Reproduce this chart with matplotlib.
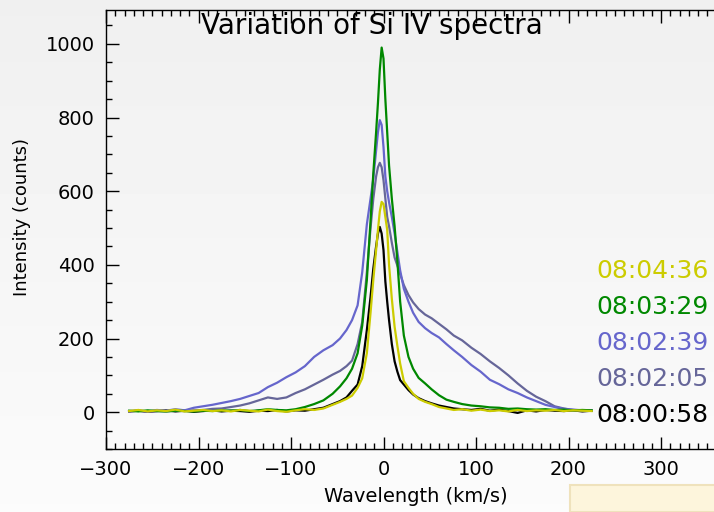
import numpy as np
import matplotlib.pyplot as plt
from matplotlib.patches import Rectangle
from matplotlib.ticker import MultipleLocator

# velocity grid (km/s)
velocity = [-275, -265, -255, -245, -235, -225, -215, -205, -195, -185,
            -175, -165, -155, -145, -135, -125, -115, -105, -95, -85,
            -75, -65, -55, -47, -40, -34, -28, -23, -18, -14,
            -11, -8, -6, -4, -2, 0, 2, 4, 6, 9,
            12, 15, 18, 22, 27, 32, 38, 45, 52, 60,
            68, 76, 85, 95, 105, 115, 125, 135, 145, 155,
            165, 175, 185, 195, 205, 215, 225]

# intensity (counts) for each time
i_080058 = [2, 4, 1, 3, 5, 2, 4, 1, 3, 5,
            2, 4, 3, 1, 4, 3, 6, 2, 5, 4,
            8, 12, 22, 30, 40, 58, 75, 125, 223, 313,
            390, 450, 485, 503, 485, 440, 355, 300, 250, 185,
            138, 110, 87, 75, 60, 48, 38, 30, 24, 18,
            14, 10, 8, 6, 9, 4, 7, 3, -2, 5,
            2, 6, 4, 3, 5, 2, 4]

i_080205 = [2, 4, 1, 3, 2, 4, 3, 5, 6, 9,
            10, 14, 18, 24, 32, 40, 36, 40, 52, 62,
            75, 88, 102, 112, 125, 140, 185, 245, 380, 500,
            580, 640, 665, 677, 665, 630, 580, 530, 505, 460,
            420, 398, 375, 345, 318, 298, 280, 265, 255, 240,
            225, 208, 195, 175, 158, 138, 120, 100, 78, 58,
            42, 30, 16, 10, 6, 4, 4]

i_080239 = [3, 5, 2, 6, 4, 8, 5, 12, 16, 20,
            25, 30, 36, 44, 52, 68, 80, 95, 108, 125,
            150, 168, 182, 200, 223, 250, 290, 380, 510, 580,
            635, 710, 760, 793, 780, 720, 640, 600, 570, 530,
            485, 435, 385, 335, 300, 270, 245, 228, 215, 203,
            185, 168, 150, 128, 110, 88, 76, 62, 52, 40,
            30, 20, 14, 9, 7, 5, 4]

i_080329 = [4, 2, 5, 3, 2, 4, 3, 2, 4, 3,
            5, 4, 6, 3, 5, 8, 6, 5, 8, 14,
            22, 32, 50, 70, 92, 118, 160, 235, 359, 520,
            649, 760, 840, 930, 990, 960, 850, 760, 670, 580,
            505, 410, 300, 208, 150, 118, 93, 78, 62, 46,
            34, 28, 22, 18, 16, 13, 12, 9, 10, 8,
            7, 8, 6, 7, 5, 6, 5]

i_080436 = [3, 6, 2, 5, 3, 7, 2, 4, 6, 3,
            5, 2, 6, 4, 2, 7, 3, 1, 5, 8,
            6, 10, 20, 28, 36, 45, 66, 92, 160, 270,
            360, 440, 495, 545, 571, 565, 530, 495, 400, 308,
            232, 180, 132, 84, 66, 50, 36, 28, 22, 14,
            10, 6, 8, 4, 7, 3, 5, 2, 6, 3,
            5, 4, 6, 3, 5, 4, 3]

times = ["08:00:58", "08:02:05", "08:02:39", "08:03:29", "08:04:36"]
series = [i_080058, i_080205, i_080239, i_080329, i_080436]
colors = ["black", "#666699", "#6666cc", "#008800", "#cccc00"]


def main():
    fig = plt.figure(figsize=(7.14, 5.12), dpi=100)

    # light grey gradient background
    bg = fig.add_axes([0, 0, 1, 1], zorder=-10)
    grad = np.linspace(0.94, 0.985, 256).reshape(-1, 1)
    bg.imshow(grad, cmap='gray', vmin=0, vmax=1, aspect='auto',
              extent=[0, 1, 0, 1])
    bg.set_axis_off()

    ax = fig.add_axes([106 / 714, 63 / 512, 647.5 / 714, 439 / 512])
    ax.patch.set_alpha(0)

    for y, c in zip(series, colors):
        ax.plot(velocity, y, color=c, lw=1.6)

    ax.set_xlim(-300, 400)
    ax.set_ylim(-100, 1092)
    ax.xaxis.set_major_locator(MultipleLocator(100))
    ax.xaxis.set_minor_locator(MultipleLocator(10))
    ax.yaxis.set_major_locator(MultipleLocator(200))
    ax.yaxis.set_minor_locator(MultipleLocator(50))
    ax.tick_params(which='both', direction='in', top=True, right=True,
                   labelsize=14, color='black', width=1)
    ax.tick_params(which='major', length=9, pad=8)
    ax.tick_params(which='minor', length=4)
    for s in ax.spines.values():
        s.set_linewidth(1)

    fig.text(22 / 714, 1 - 217 / 512, "Intensity (counts)", rotation=90,
             ha='center', va='center', fontsize=13)
    fig.text(416 / 714, 1 - 497 / 512, "Wavelength (km/s)",
             ha='center', va='center', fontsize=14)
    fig.text(372 / 714, 1 - 26 / 512, "Variation of Si IV spectra",
             ha='center', va='center', fontsize=20)

    # time labels, newest on top
    ys = [415, 379, 343, 307, 271]
    for t, c, yy in zip(times, colors, ys):
        fig.text(596 / 714, 1 - yy / 512, t, color=c, ha='left',
                 va='center', fontsize=18)

    # pale box at bottom right corner
    fig.patches.append(Rectangle((570 / 714, 0), 0.3, 27 / 512,
                                 transform=fig.transFigure,
                                 facecolor='#fdf5dc', edgecolor='#efe2bc',
                                 lw=1.5, zorder=5))

    plt.savefig('out.png', dpi=100)


if __name__ == '__main__':
    main()
